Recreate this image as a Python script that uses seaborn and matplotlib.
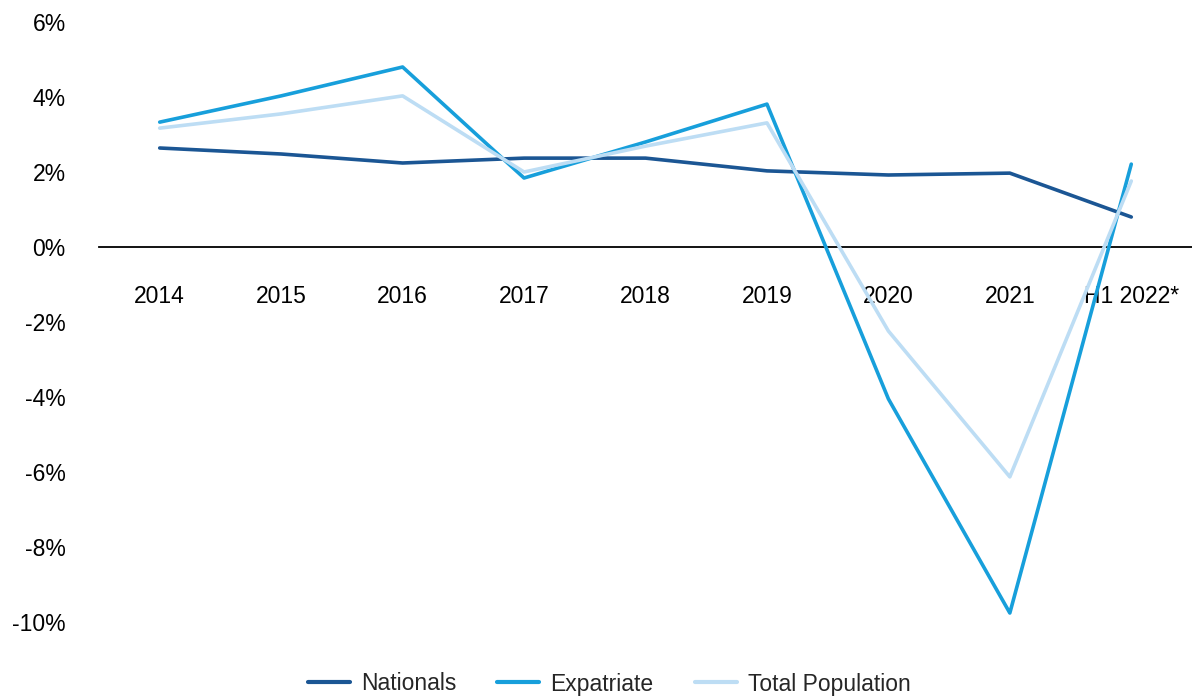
import matplotlib
matplotlib.use("Agg")
import matplotlib.pyplot as plt
import matplotlib.ticker as mticker
import seaborn as sns
import pandas as pd

# Annual population growth (%)
periods = ["2014", "2015", "2016", "2017", "2018", "2019", "2020", "2021", "H1 2022*"]
nationals = [2.64, 2.48, 2.24, 2.37, 2.37, 2.03, 1.92, 1.97, 0.80]
expatriate = [3.33, 4.03, 4.80, 1.84, 2.80, 3.81, -4.05, -9.76, 2.21]
total_population = [3.17, 3.55, 4.03, 2.00, 2.69, 3.31, -2.24, -6.13, 1.76]

series_names = ["Nationals", "Expatriate", "Total Population"]
colors = ["#1B5694", "#179FDB", "#BDDDF4"]
y_ticks = [-10, -8, -6, -4, -2, 0, 2, 4, 6]

rows = []
for name, values in zip(series_names, [nationals, expatriate, total_population]):
    for i, (p, v) in enumerate(zip(periods, values)):
        rows.append({"idx": i, "period": p, "growth": v, "series": name})
df = pd.DataFrame(rows)

sns.set_theme(style="white")
plt.rcParams["font.family"] = ["Liberation Sans", "DejaVu Sans"]

fig = plt.figure(figsize=(11.92, 6.97), dpi=100)
ax = fig.add_axes([99 / 1192, 1 - 622 / 697, 1 - 99 / 1192, (622 - 22) / 697])

sns.lineplot(data=df, x="idx", y="growth", hue="series", hue_order=series_names,
             palette=colors, linewidth=2.6, ax=ax, legend=False, sort=False)

ax.set_xlim(-0.5, 8.5)
ax.set_ylim(-10, 6)
ax.set_xticks(range(len(periods)))
ax.set_xticklabels(periods)
ax.set_yticks(y_ticks)
ax.yaxis.set_major_formatter(mticker.FuncFormatter(lambda v, _: f"{v:.0f}%"))
ax.set_xlabel("")
ax.set_ylabel("")

for side in ["top", "right", "left"]:
    ax.spines[side].set_visible(False)
ax.spines["bottom"].set_position(("data", 0))
ax.spines["bottom"].set_color("black")
ax.spines["bottom"].set_linewidth(1.3)
ax.spines["bottom"].set_zorder(0)

ax.tick_params(axis="x", length=0, pad=27, labelsize=16.5, labelcolor="black")
ax.tick_params(axis="y", length=0, pad=24, labelsize=16.5, labelcolor="black")
ax.grid(False)

handles = [plt.Line2D([], [], color=c, linewidth=3) for c in colors]
fig.legend(handles, series_names, loc="center", bbox_to_anchor=(0.511, 1 - 684 / 697),
           ncol=3, frameon=False, fontsize=16.5, handlelength=1.83,
           handletextpad=0.48, columnspacing=1.8)

fig.savefig("out.png", dpi=100)
